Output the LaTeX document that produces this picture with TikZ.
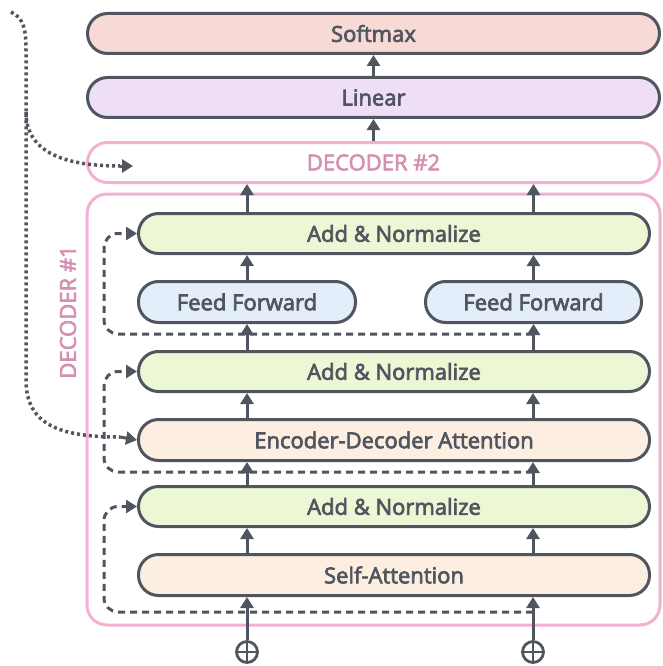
\documentclass[tikz,border=0pt]{standalone}
\usepackage{fontspec}
\setmainfont{Open Sans}
\newfontfamily\semib{Open Sans}[FakeBold=3]
\usetikzlibrary{arrows.meta}
\definecolor{dk}{HTML}{50555F}
\definecolor{smx}{HTML}{F7D9D6}
\definecolor{lin}{HTML}{EFDEF7}
\definecolor{anf}{HTML}{ECF8D5}
\definecolor{fff}{HTML}{E4EEFB}
\definecolor{att}{HTML}{FCEEE0}
\definecolor{pk}{HTML}{F2B1D3}
\definecolor{pkt}{HTML}{D58FB2}
\tikzset{
  lbl/.style={font=\fontsize{22}{24}\selectfont\semib},
  pill/.style={draw=dk, line width=3pt, rounded corners=20pt, minimum height=40pt, inner sep=0pt, text=dk, lbl},
  pinkbox/.style={draw=pk, line width=3pt, rounded corners=20pt, minimum height=40pt, inner sep=0pt, text=pkt, lbl},
  arr/.style={draw=dk, line width=3pt, -{Triangle[width=13pt,length=11pt]}},
  resid/.style={draw=dk, line width=3pt, dash pattern=on 7pt off 5pt, rounded corners=14pt, -{Triangle[width=13pt,length=11pt]}},
  dotl/.style={draw=dk, line width=3.5pt, dash pattern=on 3pt off 3pt}
}
\begin{document}
\begin{tikzpicture}[x=1pt,y=-1pt]
\useasboundingbox (0,0) rectangle (662,666);
% outer decoder #1
\node[draw=pk, line width=3pt, rounded corners=20pt, minimum width=573pt, minimum height=431pt, inner sep=0pt] (dec1) at (373.5,409.5) {};
\node[text=pkt, lbl, rotate=90] (dec1lab) at (68,312) {DECODER \#1};
% top boxes
\node[pill, fill=smx, minimum width=572pt] (smx) at (373.5,33.5) {Softmax};
\node[pill, fill=lin, minimum width=572pt] (lin) at (373.5,97.5) {Linear};
\node[pinkbox, fill=white, minimum width=572pt] (dec2) at (373.5,162.5) {DECODER \#2};
% decoder #1 internals
\node[pill, fill=anf, minimum width=511pt] (an1) at (394,233.5) {Add \& Normalize};
\node[pill, fill=fff, minimum width=217pt, minimum height=41pt] (ff1) at (247,302) {Feed Forward};
\node[pill, fill=fff, minimum width=216pt, minimum height=41pt] (ff2) at (533.5,302) {Feed Forward};
\node[pill, fill=anf, minimum width=511pt] (an2) at (394,371.5) {Add \& Normalize};
\node[pill, fill=att, minimum width=511pt, minimum height=41pt] (ed) at (394,440) {Encoder-Decoder Attention};
\node[pill, fill=anf, minimum width=511pt] (an3) at (394,506.5) {Add \& Normalize};
\node[pill, fill=att, minimum width=511pt, minimum height=41pt] (sa) at (394,575) {Self-Attention};
% plus circles
\node[draw=dk, line width=2.8pt, circle, minimum size=21pt, inner sep=0pt] (p1) at (247,652) {};
\node[draw=dk, line width=2.8pt, circle, minimum size=21pt, inner sep=0pt] (p2) at (533,652) {};
\draw[dk, line width=2.8pt] (p1.north) -- (p1.south) (p1.west) -- (p1.east);
\draw[dk, line width=2.8pt] (p2.north) -- (p2.south) (p2.west) -- (p2.east);
% residual dashed loops
\coordinate (r1) at (533,612);
\coordinate (r2) at (533,472);
\coordinate (r3) at (533,334);
\draw[resid] (r1) -- (104,612) -- (104,506.5) -- (an3.west);
\draw[resid] (r2) -- (104,472) -- (104,371.5) -- (an2.west);
\draw[resid] (r3) -- (104,334) -- (104,233.5) -- (an1.west);
% vertical arrows
\foreach \c in {p1,p2}{
  \draw[arr] (\c.north) -- (sa.south -| \c);
  \draw[arr] (sa.north -| \c) -- (an3.south -| \c);
  \draw[arr] (an3.north -| \c) -- (ed.south -| \c);
  \draw[arr] (ed.north -| \c) -- (an2.south -| \c);
}
\draw[arr] (an2.north -| ff1) -- (ff1.south);
\draw[arr] (an2.north -| ff2) -- (ff2.south);
\draw[arr] (ff1.north) -- (an1.south -| ff1);
\draw[arr] (ff2.north) -- (an1.south -| ff2);
\draw[arr] (an1.north -| ff1) -- (dec2.south -| ff1);
\draw[arr] (an1.north -| ff2) -- (dec2.south -| ff2);
\draw[arr] (dec2.north -| lin) -- (lin.south);
\draw[arr] (lin.north) -- (smx.south);
% dotted encoder input
\coordinate (src) at (11,12);
\coordinate (br) at (26,112);
\coordinate (d2in) at (133,166);
\draw[dotl] (src) .. controls (24,18) and (26,30) .. (26,50) -- (26,380) .. controls (26,425) and (60,437) .. (120,437);
\draw[dotl] (br) .. controls (26,150) and (60,166) .. (120,166);
\draw[dk, line width=3pt, -{Triangle[width=13pt,length=11pt]}] (120,166) -- (d2in);
\draw[dk, line width=3pt, -{Triangle[width=13pt,length=11pt]}] (120,437) -- (ed.west);
\end{tikzpicture}
\end{document}
